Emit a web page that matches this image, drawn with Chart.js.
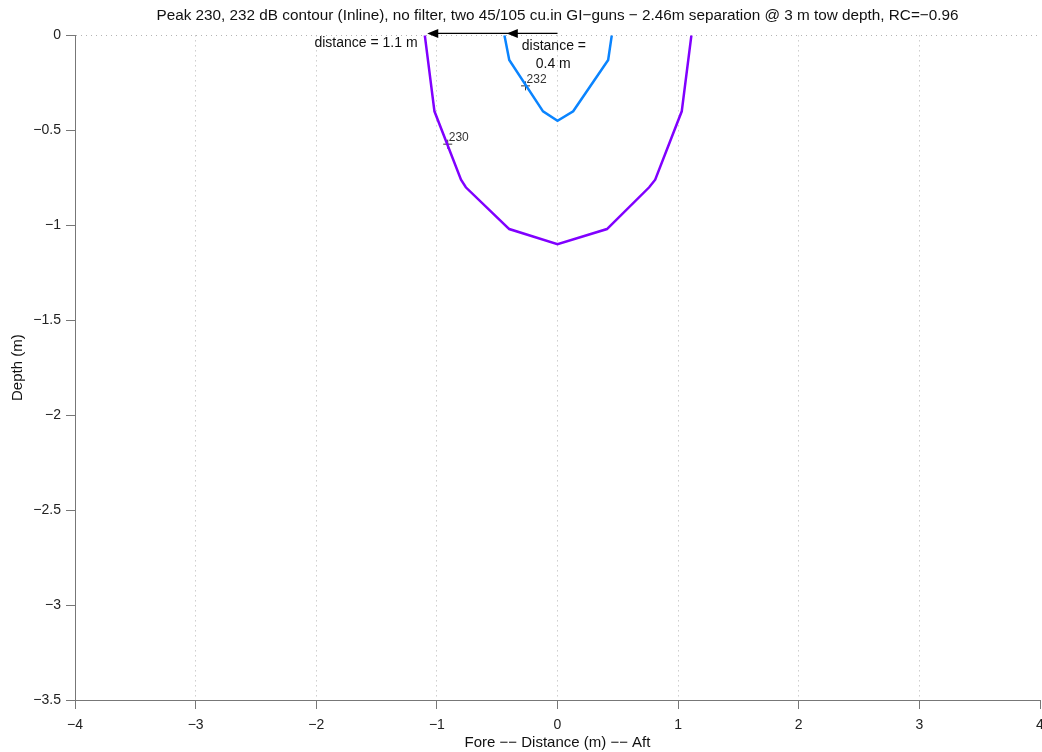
<!DOCTYPE html>
<html>
<head>
<meta charset="utf-8">
<title>Peak 230, 232 dB contour</title>
<script src="https://cdn.jsdelivr.net/npm/chart.js@4.4.1/dist/chart.umd.min.js"></script>
<style>
  html, body { margin: 0; padding: 0; background: #fff; }
  #wrap { width: 1042px; height: 752px; }
</style>
</head>
<body>
<div id="wrap"><canvas id="chart" width="1042" height="752"></canvas></div>
<script>
// contour 230 dB (purple)
const x230 = [-1.10, -1.02, -0.80, -0.76, -0.40, 0, 0.41, 0.76, 0.81, 1.03, 1.11];
const d230 = [0, -0.40, -0.76, -0.80, -1.02, -1.10, -1.02, -0.80, -0.76, -0.40, 0];
// contour 232 dB (blue)
const x232 = [-0.44, -0.40, -0.12, 0, 0.13, 0.42, 0.45];
const d232 = [0, -0.13, -0.40, -0.45, -0.40, -0.13, 0];

// contour labels (+ marker and level)
const labelText = ["232", "230"];
const labelX = [-0.265, -0.91];
const labelY = [-0.266, -0.573];

// distance arrows and notes
const arrowStart = 0;
const arrowTips = [-1.08, -0.42];
const arrowDepth = 0.01;
const noteText = ["distance = 1.1 m", "distance =", "0.4 m"];
const noteX = [-1.16, -0.03, -0.035];
const noteY = [-0.04, -0.057, -0.15];
const noteAlign = ["right", "center", "center"];

const xTicks = [-4, -3, -2, -1, 0, 1, 2, 3, 4];
const yTicks = [0, -0.5, -1, -1.5, -2, -2.5, -3, -3.5];

const FONT = "'Liberation Sans', Arial, Helvetica, sans-serif";
const minus = v => String(v).replace("-", "\u2212");
const noPad = () => ({ left: 0, top: 0, right: 0, bottom: 0 });

const toPts = (xs, ys) => xs.map((x, i) => ({ x: x, y: ys[i] }));

const notes = {
  id: "notes",
  afterDatasetsDraw(chart) {
    const { ctx, scales: { x, y } } = chart;
    ctx.save();
    // contour level text
    ctx.fillStyle = "#333";
    ctx.font = "12px " + FONT;
    ctx.textAlign = "left";
    ctx.textBaseline = "middle";
    labelText.forEach((t, i) => {
      ctx.fillText(t, x.getPixelForValue(labelX[i]) + 1, y.getPixelForValue(labelY[i]) - 6);
    });
    // arrows
    const ay = y.getPixelForValue(arrowDepth);
    ctx.strokeStyle = "#000";
    ctx.fillStyle = "#000";
    ctx.lineWidth = 1.3;
    ctx.beginPath();
    ctx.moveTo(x.getPixelForValue(arrowStart), ay);
    ctx.lineTo(x.getPixelForValue(arrowTips[0]) + 4, ay);
    ctx.stroke();
    arrowTips.forEach(t => {
      const px = x.getPixelForValue(t);
      ctx.beginPath();
      ctx.moveTo(px, ay);
      ctx.lineTo(px + 11, ay - 4.5);
      ctx.lineTo(px + 11, ay + 4.5);
      ctx.closePath();
      ctx.fill();
    });
    // distance notes
    ctx.fillStyle = "#111";
    ctx.font = "14px " + FONT;
    noteText.forEach((t, i) => {
      ctx.textAlign = noteAlign[i];
      ctx.fillText(t, x.getPixelForValue(noteX[i]), y.getPixelForValue(noteY[i]));
    });
    ctx.restore();
  }
};

new Chart(document.getElementById("chart"), {
  type: "scatter",
  data: {
    datasets: [
      { label: "230 dB", data: toPts(x230, d230), showLine: true, borderColor: "#8000ff", borderWidth: 2.5, pointRadius: 0, tension: 0 },
      { label: "232 dB", data: toPts(x232, d232), showLine: true, borderColor: "#0a84ff", borderWidth: 2.5, pointRadius: 0, tension: 0 },
      { label: "labels", data: toPts(labelX, labelY), pointStyle: "cross", pointRadius: 4.5, borderColor: "#333", borderWidth: 1, backgroundColor: "#333" }
    ]
  },
  options: {
    responsive: false,
    animation: false,
    layout: { autoPadding: false, padding: { left: 0, right: 2, top: 0, bottom: 0 } },
    plugins: {
      legend: { display: false },
      tooltip: { enabled: false },
      title: {
        display: true,
        fullSize: false,
        text: "Peak 230, 232 dB contour (Inline), no filter, two 45/105 cu.in GI\u2212guns \u2212 2.46m separation @ 3 m tow depth, RC=\u22120.96",
        color: "#111",
        font: { family: FONT, size: 15.3, weight: "normal" },
        padding: { top: 7, bottom: 10 }
      }
    },
    scales: {
      x: {
        type: "linear",
        min: -4, max: 4,
        afterBuildTicks: s => { s.ticks = xTicks.map(v => ({ value: v })); },
        afterFit: s => { s.height = 52; s.paddingLeft = 0; s.paddingRight = 0; s.getPadding = noPad; },
        ticks: { color: "#222", font: { family: FONT, size: 14 }, padding: 8, maxRotation: 0, callback: v => minus(v) },
        grid: {
          color: c => (c.tick && Math.abs(c.tick.value) === 4) ? "transparent" : "#b4b4b4",
          tickColor: "#777",
          tickLength: 9,
          lineWidth: 1
        },
        border: { display: true, color: "#777", width: 1, dash: [1, 4] },
        title: { display: true, text: "Fore \u2212\u2212 Distance (m) \u2212\u2212 Aft", color: "#111", font: { family: FONT, size: 15 }, padding: { top: 0, bottom: 0 } }
      },
      y: {
        type: "linear",
        min: -3.5, max: 0,
        afterBuildTicks: s => { s.ticks = yTicks.map(v => ({ value: v })); },
        afterFit: s => { s.width = 75; s.paddingTop = 0; s.paddingBottom = 0; s.getPadding = noPad; },
        ticks: { color: "#222", font: { family: FONT, size: 14 }, padding: 5, callback: v => minus(v) },
        grid: {
          color: c => (c.tick && c.tick.value === 0) ? "#b4b4b4" : "transparent",
          tickColor: "#777",
          tickLength: 9,
          lineWidth: 1
        },
        border: { display: true, color: "#777", width: 1, dash: [1, 4] },
        title: { display: true, text: "Depth (m)", color: "#111", font: { family: FONT, size: 15 }, padding: { top: 9, bottom: 0 } }
      }
    }
  },
  plugins: [notes]
});
</script>
</body>
</html>
